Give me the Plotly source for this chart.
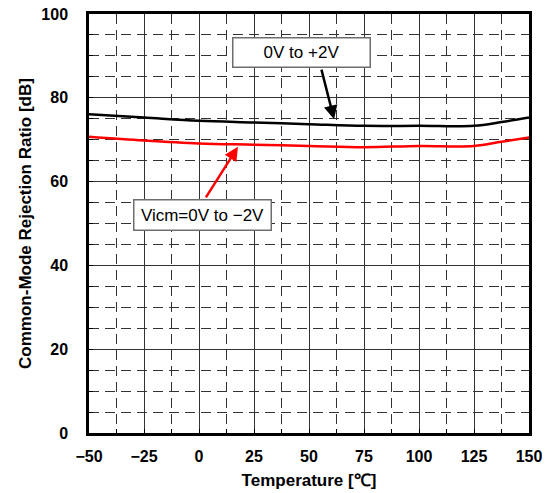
import plotly.graph_objects as go

temperature = [-50, -25, 0, 25, 50, 75, 100, 125, 137.5, 150]
cmrr_pos = [76.1, 75.3, 74.5, 74.1, 73.7, 73.3, 73.3, 73.3, 74.2, 75.3]
cmrr_neg = [70.7, 69.8, 69.1, 68.8, 68.5, 68.2, 68.5, 68.5, 69.5, 70.5]

x_ticks = [-50, -25, 0, 25, 50, 75, 100, 125, 150]
y_ticks = [0, 20, 40, 60, 80, 100]

fig = go.Figure()
fig.add_trace(go.Scatter(x=temperature, y=cmrr_pos, mode="lines",
                         line=dict(color="black", width=2.5, shape="spline")))
fig.add_trace(go.Scatter(x=temperature, y=cmrr_neg, mode="lines",
                         line=dict(color="red", width=2.5, shape="spline")))

label_font = dict(family="Liberation Sans", size=17, color="black", weight="normal")

# label boxes
fig.add_annotation(x=46.8, y=90.7, text="0V to +2V", showarrow=False,
                   font=label_font, bgcolor="white", bordercolor="#6e6e6e",
                   borderwidth=1.5, width=134, height=26)
fig.add_annotation(x=1.4, y=52.1, text="Vicm=0V to \u22122V", showarrow=False,
                   font=label_font, bgcolor="white", bordercolor="#6e6e6e",
                   borderwidth=1.5, width=134, height=27)
# arrows
fig.add_annotation(x=61.4, y=74.9, text="", showarrow=True, ax=-13, ay=-51,
                   arrowhead=2, arrowsize=1.1, arrowwidth=2.5, arrowcolor="black")
fig.add_annotation(x=17.7, y=68.3, text="", showarrow=True, ax=-33, ay=52,
                   arrowhead=2, arrowsize=1.1, arrowwidth=2.5, arrowcolor="red")

tick_font = dict(family="Liberation Sans", size=16, color="black", weight="bold")
title_font = dict(family="Liberation Sans", size=17, color="black", weight="bold")

fig.update_xaxes(
    range=[-50, 150], tickvals=x_ticks, tickfont=tick_font, automargin=False,
    title=dict(text="Temperature [\u2103]", font=title_font, standoff=11),
    showgrid=True, gridcolor="#333333", gridwidth=1, zeroline=False,
    showline=True, linecolor="black", linewidth=2.5, mirror=True,
    ticks="inside", ticklen=4, tickcolor="black", ticklabelstandoff=7,
    minor=dict(dtick=12.5, tick0=-50, showgrid=True, gridcolor="#333333",
               griddash="10px,6px", gridwidth=1, ticks="inside", ticklen=4),
)
fig.update_yaxes(
    range=[0, 100], tickvals=y_ticks, tickfont=tick_font, automargin=False,
    title=dict(text="Common-Mode Rejection Ratio [dB]", font=title_font, standoff=6),
    showgrid=True, gridcolor="#333333", gridwidth=1, zeroline=False,
    showline=True, linecolor="black", linewidth=2.5, mirror=True,
    ticks="inside", ticklen=4, tickcolor="black", ticklabelstandoff=15,
    minor=dict(dtick=5, tick0=0, showgrid=True, gridcolor="#333333",
               griddash="10px,6px", gridwidth=1, ticks="inside", ticklen=4),
)
fig.update_layout(
    width=546, height=493, showlegend=False,
    plot_bgcolor="white", paper_bgcolor="white",
    margin=dict(l=89, r=17, t=14, b=60),
    font=dict(family="Liberation Sans"),
)
# drop the default 8px body margin so the figure sits at the page corner
fig.write_html("out.html", config={"displayModeBar": False},
               post_script="document.body.style.margin='0';")
